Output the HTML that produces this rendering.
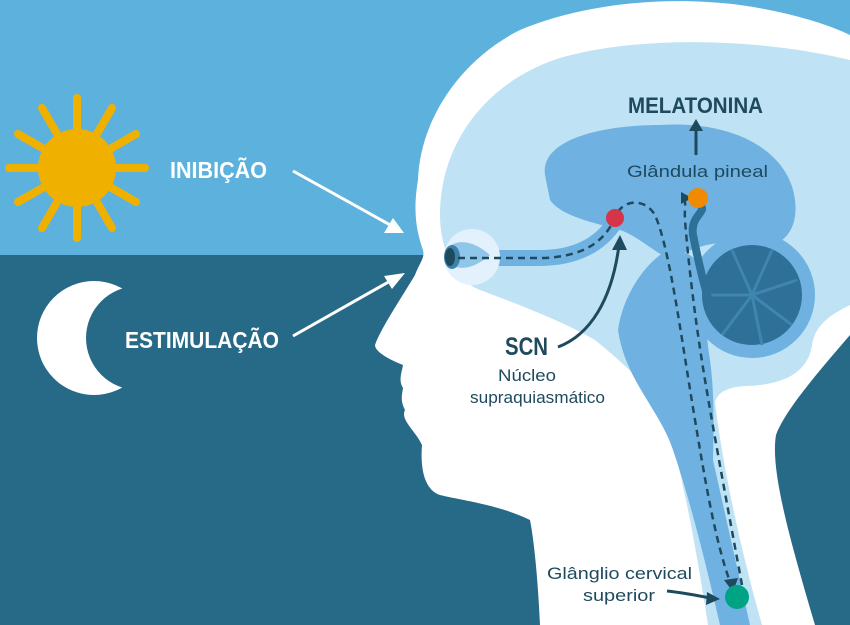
<!DOCTYPE html>
<html><head><meta charset="utf-8"><style>
html,body{margin:0;padding:0;width:850px;height:625px;overflow:hidden;background:#276a87}
svg{display:block}
.c{font-family:"Liberation Sans",sans-serif}
</style></head><body>
<svg width="850" height="625" viewBox="0 0 850 625" xmlns="http://www.w3.org/2000/svg">
<rect x="0" y="0" width="850" height="255" fill="#5db2dd"/>
<rect x="0" y="255" width="850" height="370" fill="#276a87"/>
<!-- sun -->
<g stroke="#f0b000" stroke-width="8" stroke-linecap="round">
<line x1="77" y1="168" x2="77" y2="98"/><line x1="77" y1="168" x2="77" y2="238"/>
<line x1="77" y1="168" x2="9" y2="168"/><line x1="77" y1="168" x2="145" y2="168"/>
<line x1="77" y1="168" x2="42" y2="108"/><line x1="77" y1="168" x2="112" y2="108"/>
<line x1="77" y1="168" x2="42" y2="228"/><line x1="77" y1="168" x2="112" y2="228"/>
<line x1="77" y1="168" x2="18" y2="134"/><line x1="77" y1="168" x2="136" y2="134"/>
<line x1="77" y1="168" x2="18" y2="202"/><line x1="77" y1="168" x2="136" y2="202"/>
</g>
<circle cx="77" cy="168" r="39" fill="#f0b000"/>
<!-- moon -->
<circle cx="94" cy="338" r="57" fill="#fff"/>
<circle cx="138" cy="338" r="52" fill="#276a87"/>
<text x="170" y="178" class="c" font-size="23" font-weight="bold" fill="#fff" textLength="97" lengthAdjust="spacingAndGlyphs">INIBIÇÃO</text>
<text x="125" y="348" class="c" font-size="23" font-weight="bold" fill="#fff" textLength="154" lengthAdjust="spacingAndGlyphs">ESTIMULAÇÃO</text>
<g stroke="#fff" stroke-width="3">
<line x1="293" y1="171" x2="392" y2="226"/><line x1="293" y1="336" x2="392" y2="280"/>
</g>
<polygon points="404,233 384,233 393,218" fill="#fff"/>
<polygon points="405,273 392,289 384,276" fill="#fff"/>
<!-- head -->
<path d="M418,180 C420,120 460,60 520,30 C580,5 660,-5 740,5 C790,12 830,25 850,35 L850,335 C820,370 785,410 776,435 C770,470 790,540 815,625 L540,625 C538,580 534,540 530,520 C500,505 460,500 440,495 C425,490 420,470 422,445 C415,430 400,420 405,410 C400,400 402,395 403,388 C398,380 402,372 403,365 C390,360 375,352 375,345 C380,330 400,300 415,275 C420,262 425,258 423,250 C418,235 412,215 418,180 Z" fill="#fff"/>
<!-- brain light -->
<path d="M440,215 C440,140 490,80 560,58 C640,35 760,38 850,60 L850,305 C830,315 815,325 812,345 C808,372 785,385 745,386 C728,387 718,392 715,402 C722,460 738,540 762,625 L708,625 C695,540 680,460 660,400 C640,380 620,360 595,340 C560,320 520,305 480,290 C455,280 440,250 440,215 Z" fill="#bfe3f5"/>
<!-- mid blue cerebrum -->
<path d="M545,175 C540,140 600,125 660,125 C740,120 790,155 795,200 C800,240 770,255 740,245 C720,240 700,245 680,255 L670,260 C645,245 635,235 620,230 C590,222 560,215 550,200 Z" fill="#6fb2e2"/>
<!-- brainstem mid blue -->
<path d="M618,330 C622,300 640,270 660,255 C680,248 695,252 700,270 C705,300 705,330 710,360 C714,390 714,420 713,460 L750,625 L720,625 C705,560 690,500 673,450 C660,410 625,380 618,330 Z" fill="#6fb2e2"/>
<!-- cerebellum -->
<circle cx="752" cy="295" r="63" fill="#6fb2e2"/>
<circle cx="752" cy="295" r="50" fill="#2f7099"/>
<g stroke="#3f86ae" stroke-width="3" fill="none">
<path d="M752,295 L732,250"/><path d="M752,295 L772,250"/><path d="M752,295 L797,280"/><path d="M752,295 L792,325"/><path d="M752,295 L762,345"/><path d="M752,295 L722,335"/><path d="M752,295 L707,295"/>
</g>
<!-- pineal stalk -->
<path d="M700,205 C708,212 690,215 693,235 C698,260 705,290 712,310" stroke="#2f7099" stroke-width="8" fill="none"/>
<!-- optic nerve -->
<path d="M470,258 L540,258 C575,258 600,245 615,222" stroke="#6fb2e2" stroke-width="16" fill="none"/>
<!-- eye -->
<circle cx="472" cy="257" r="28" fill="#e2f1fb"/>
<path d="M448,247 C460,238 475,242 490,255 C475,268 460,272 448,263 Z" fill="#8fc6ea"/>
<ellipse cx="452" cy="257" rx="8" ry="12" fill="#3b82ad"/>
<ellipse cx="450" cy="257" rx="5" ry="9" fill="#1f4a5e"/>
<!-- dashed paths -->
<g stroke="#1f4a5e" stroke-width="2.5" fill="none" stroke-dasharray="7,5">
<path d="M458,258 L545,258 C580,256 600,245 612,224"/>
<path d="M618,212 C625,200 645,198 655,215 C670,250 680,330 695,420 C705,480 715,540 730,582"/>
<path d="M742,585 C730,520 715,440 705,380 C695,320 688,260 685,220 C684,205 688,198 680,198"/>
</g>
<polygon points="724,580 738,578 733,592" fill="#1f4a5e"/>
<polygon points="692,198 681,192 681,204" fill="#1f4a5e"/>
<!-- dots -->
<circle cx="615" cy="218" r="9" fill="#d63447"/>
<circle cx="698" cy="198" r="10" fill="#f08a00"/>
<circle cx="737" cy="597" r="12" fill="#00a484"/>
<!-- labels -->
<text x="628" y="113" class="c" font-size="22" font-weight="bold" fill="#1f4a5e" textLength="135" lengthAdjust="spacingAndGlyphs">MELATONINA</text>
<line x1="696" y1="155" x2="696" y2="128" stroke="#1f4a5e" stroke-width="3"/>
<polygon points="696,119 689,131 703,131" fill="#1f4a5e"/>
<text x="627" y="177" class="c" font-size="17" fill="#1f4a5e" textLength="141" lengthAdjust="spacingAndGlyphs">Glândula pineal</text>
<text x="505" y="355" class="c" font-size="25" font-weight="bold" fill="#1f4a5e" textLength="43" lengthAdjust="spacingAndGlyphs">SCN</text>
<text x="498" y="381" class="c" font-size="17" fill="#1f4a5e" textLength="58" lengthAdjust="spacingAndGlyphs">Núcleo</text>
<text x="470" y="403" class="c" font-size="17" fill="#1f4a5e" textLength="135" lengthAdjust="spacingAndGlyphs">supraquiasmático</text>
<path d="M558,347 C590,335 612,300 619,245" stroke="#1f4a5e" stroke-width="3" fill="none"/>
<polygon points="620,235 612,250 627,250" fill="#1f4a5e"/>
<text x="547" y="579" class="c" font-size="17" fill="#1f4a5e" textLength="145" lengthAdjust="spacingAndGlyphs">Glânglio cervical</text>
<text x="583" y="601" class="c" font-size="17" fill="#1f4a5e" textLength="72" lengthAdjust="spacingAndGlyphs">superior</text>
<path d="M667,591 C685,593 700,596 710,598" stroke="#1f4a5e" stroke-width="3" fill="none"/>
<polygon points="720,599 707,592 706,605" fill="#1f4a5e"/>
</svg>
</body></html>
